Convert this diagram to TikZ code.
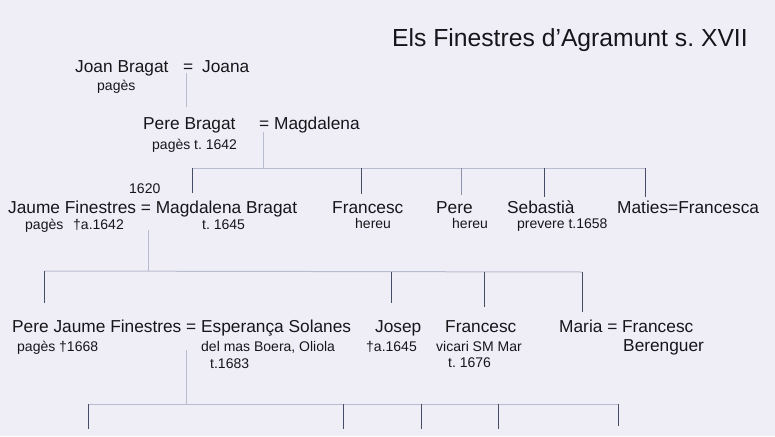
\documentclass[tikz,border=0pt]{standalone}
\usepackage{fontspec}
\setmainfont{Liberation Sans}
\frenchspacing
\definecolor{bgc}{RGB}{239,238,246}
\definecolor{lightln}{RGB}{184,188,208}
\definecolor{darkln}{RGB}{70,78,102}
\definecolor{midln}{RGB}{140,146,168}
\definecolor{txt}{RGB}{22,22,26}
\begin{document}
\begin{tikzpicture}[x=1pt,y=-1pt,
  big/.style={anchor=base west,inner sep=0pt,text=txt,font=\fontsize{17.3}{20}\selectfont},
  small/.style={anchor=base west,inner sep=0pt,text=txt,font=\fontsize{14}{16}\selectfont},
  ttl/.style={anchor=base west,inner sep=0pt,text=txt,font=\fontsize{24.7}{30}\selectfont},
  stem/.style={draw=lightln,line width=1pt},
  barln/.style={draw=lightln,line width=1pt},
  drop/.style={draw=darkln,line width=1pt},
  dropl/.style={draw=midln,line width=1pt}]
\fill[bgc] (0,0) rectangle (775,436);
\useasboundingbox (0,0) rectangle (775,436);
% title
\node[ttl] (title) at (392,47) {Els Finestres d’Agramunt s. XVII};
% generation 1
\node[big] (joan) at (75,72) {Joan Bragat};
\node[big] (eq1) at (183,72) {=};
\node[big] (joana) at (202,72) {Joana};
\node[small] (joanp) at (97,90) {pagès};
% generation 2
\node[big] (pere) at (143,129) {Pere Bragat};
\node[big] (magd) at (259,129) {= Magdalena};
\node[small] (perep) at (152,149) {pagès t. 1642};
% generation 3
\node[small] (y1620) at (129,193) {1620};
\node[big] (jaume) at (8,213) {Jaume Finestres = Magdalena Bragat};
\node[small] (jaumep) at (25,229) {pagès};
\node[small] (jaumed) at (73,229) {†a.1642};
\node[small] (magbd) at (202,229) {t. 1645};
\node[big] (franc1) at (332,213) {Francesc};
\node[small] (franc1p) at (355,228) {hereu};
\node[big] (pere2) at (436,213) {Pere};
\node[small] (pere2p) at (452,228) {hereu};
\node[big] (seb) at (507,213) {Sebastià};
\node[small] (sebp) at (517,228) {prevere t.1658};
\node[big] (maties) at (617,213) {Maties=Francesca};
% generation 4
\node[big] (pj) at (12,332) {Pere Jaume Finestres = Esperança Solanes};
\node[small] (pjp) at (17,351) {pagès †1668};
\node[small] (espp) at (201,351) {del mas Boera, Oliola};
\node[small] (espd) at (210,368) {t.1683};
\node[big] (josep) at (375,332) {Josep};
\node[small] (josepd) at (366,351) {†a.1645};
\node[big] (franc2) at (445,332) {Francesc};
\node[small] (franc2p) at (436,351) {vicari SM Mar};
\node[small] (franc2d) at (448,367) {t. 1676};
\node[big] (maria) at (559,332) {Maria = Francesc};
\node[big] (beren) at (623,351) {Berenguer};
% coordinates
\coordinate (s1a) at (186,73);  \coordinate (s1b) at (186,107);
\coordinate (s2a) at (263,132); \coordinate (s2b) at (263,168);
\coordinate (b2l) at (192,168); \coordinate (b2r) at (645,168);
\coordinate (d2a) at (192,193); \coordinate (d2b) at (361,194);
\coordinate (d2c) at (461,195); \coordinate (d2d) at (544,197);
\coordinate (d2e) at (645,197);
\coordinate (s3a) at (148,230); \coordinate (s3b) at (148,271);
\coordinate (b3l) at (44,271);  \coordinate (b3r) at (582,272);
\coordinate (d3a) at (44,303);  \coordinate (d3b) at (391,303);
\coordinate (d3c) at (484,307); \coordinate (d3d) at (582,312);
\coordinate (s4a) at (186,350); \coordinate (s4b) at (186,404);
\coordinate (b4l) at (88,404);  \coordinate (b4r) at (618,404);
\coordinate (d4a) at (88,429);  \coordinate (d4b) at (343,429);
\coordinate (d4c) at (421,429); \coordinate (d4d) at (498,429);
\coordinate (d4e) at (618,426);
% connectors
\draw[stem] (s1a) -- (s1b);
\draw[stem] (s2a) -- (s2b);
\draw[barln] (b2l) -- (b2r);
\draw[drop] (b2l) -- (d2a);
\draw[drop] (b2l -| d2b) -- (d2b);
\draw[dropl] (b2l -| d2c) -- (d2c);
\draw[drop] (b2l -| d2d) -- (d2d);
\draw[drop] (b2r) -- (d2e);
\draw[stem] (s3a) -- (s3b);
\draw[barln] (b3l) -- (b3r);
\draw[drop] (b3l) -- (d3a);
\draw[drop] (391,271.6) -- (d3b);
\draw[drop] (484,271.8) -- (d3c);
\draw[drop] (b3r) -- (d3d);
\draw[stem] (s4a) -- (s4b);
\draw[barln] (b4l) -- (b4r);
\draw[drop] (b4l) -- (d4a);
\draw[drop] (b4l -| d4b) -- (d4b);
\draw[drop] (b4l -| d4c) -- (d4c);
\draw[drop] (b4l -| d4d) -- (d4d);
\draw[drop] (b4r) -- (d4e);
\end{tikzpicture}
\end{document}
